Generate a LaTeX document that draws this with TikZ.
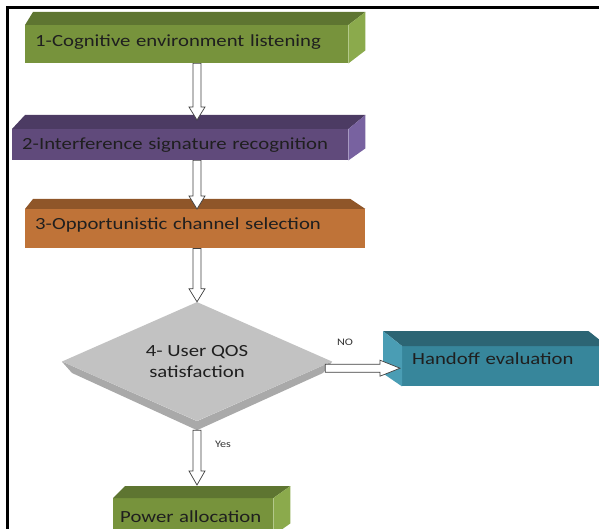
\documentclass[tikz,border=0pt]{standalone}
\usepackage{fontspec}
\setmainfont{Carlito}[FakeStretch=1.22]
\usetikzlibrary{calc,shapes.geometric}

\definecolor{olivefront}{HTML}{77933C}
\definecolor{olivetop}{HTML}{5E7531}
\definecolor{oliveside}{HTML}{8BAA4C}
\definecolor{plumfront}{HTML}{604A7B}
\definecolor{plumtop}{HTML}{4C3B63}
\definecolor{plumside}{HTML}{7862A0}
\definecolor{rustfront}{HTML}{BF7338}
\definecolor{rusttop}{HTML}{8F5629}
\definecolor{tealfront}{HTML}{37869B}
\definecolor{tealtop}{HTML}{2C6574}
\definecolor{tealside}{HTML}{4A9DB4}
\definecolor{qosfront}{HTML}{C2C2C2}
\definecolor{qosside}{HTML}{A9A9A9}

\newcommand{\boxfont}{\fontsize{17}{20.4}\selectfont}
\newcommand{\hollowarrow}[3][13pt]{%
  \path (#2) coordinate (ha-s) (#3) coordinate (ha-e)
    ($(ha-e)!#1!(ha-s)$) coordinate (ha-h);
  \filldraw[blockarrow] ($(ha-s)!4pt!90:(ha-e)$) -- ($(ha-h)!4pt!90:(ha-e)$)
    -- ($(ha-h)!8pt!90:(ha-e)$) -- (ha-e) -- ($(ha-h)!8pt!-90:(ha-e)$)
    -- ($(ha-h)!4pt!-90:(ha-e)$) -- ($(ha-s)!4pt!-90:(ha-e)$) -- cycle;}

\tikzset{
  stepbox/.style={anchor=north west, inner xsep=10pt, inner ysep=0pt, align=left,
    font=\boxfont, text=black!88},
  decision/.style={diamond, aspect=2.27, inner sep=0pt, fill=qosfront, align=center,
    font=\boxfont, text=black!88},
  blockarrow/.style={fill=white, draw=black!75, line width=0.7pt, line join=miter},
  answer/.style={font=\fontsize{10}{12}\selectfont, text=black!80},
}

\begin{document}
\begin{tikzpicture}[x=1pt,y=-1pt]
  \useasboundingbox (0,0) rectangle (599,529);
  \clip (0,0) rectangle (599,529);
  %frame
  \draw[line width=2.2pt] (7.5,540) -- (7.5,7.5) -- (610,7.5);

  %Listening
  \node[stepbox, fill=olivefront, text width=303pt, text depth=7.5pt, minimum height=38pt] (listen) at (25,25)
    {1-Cognitive environment listening};
  \fill[olivetop] (listen.north west) -- ++(8,-13) -- ($(listen.north east)+(17,-13)$) -- (listen.north east) -- cycle;
  \fill[oliveside] (listen.north east) -- ++(17,-13) -- ($(listen.south east)+(17,-13)$) -- (listen.south east) -- cycle;

  %Signature
  \node[stepbox, fill=plumfront, text width=316pt, minimum height=31pt] (sig) at (12,129)
    {2-Interference signature recognition};
  \fill[plumtop] (sig.north west) -- ++(13,-14) -- ($(sig.north east)+(17,-14)$) -- (sig.north east) -- cycle;
  \fill[plumside] (sig.north east) -- ++(17,-14) -- ($(sig.south east)+(17,-12)$) -- (sig.south east) -- cycle;

  %Channel selection
  \node[stepbox, fill=rustfront, text width=320pt, text depth=10.5pt, minimum height=39pt] (sel) at (25,209)
    {3-Opportunistic channel selection};
  \fill[rusttop] (sel.north west) -- ++(8,-10) -- ($(sel.north east)+(-15,-10)$) -- (sel.north east) -- cycle;

  %QOS
  \node[decision, minimum width=270pt, minimum height=119pt] (qos) at (197,361.5)
    {4- User QOS\\satisfaction};
  \fill[qosside] (qos.west) -- (72,373) -- ($(qos.south)+(0,9)$) -- (323,373) -- (qos.east)
    -- (qos.south) -- cycle;

  %Handoff
  \node[stepbox, fill=tealfront, text width=185pt, text depth=15pt, minimum height=40pt] (handoff) at (402,346)
    {Handoff evaluation};
  \fill[tealtop] (handoff.north west) -- ++(-19,-15) -- ($(handoff.north east)+(-19,-15)$) -- (handoff.north east) -- cycle;
  \fill[tealside] (handoff.north west) -- ++(-19,-15) -- ($(handoff.south west)+(-19,-13)$) -- (handoff.south west) -- cycle;

  %Power
  \node[stepbox, fill=olivefront, inner xsep=7pt, text width=146pt, minimum height=37pt] (power) at (113,498)
    {Power allocation};
  \fill[olivetop] (power.north west) -- ++(12,-12) -- ($(power.north east)+(17,-12)$) -- (power.north east) -- cycle;
  \fill[oliveside] (power.north east) -- ++(17,-12) -- ($(power.south east)+(17,-12)$) -- (power.south east) -- cycle;

  %arrows
  \hollowarrow{listen.south -| qos}{$(sig.north -| qos)+(0,-9)$}
  \hollowarrow{sig.south -| qos}{sel.north -| qos}
  \hollowarrow{sel.south -| qos}{qos.north}
  \hollowarrow[20pt]{$(qos.east |- handoff.west)+(-7,2)$}{$(handoff.west)+(-2,2)$}
  \hollowarrow[14pt]{$(qos.south)+(0,9)$}{$(power.north -| qos)+(0,-13)$}
  \node[answer] (no) at (345,342) {NO};
  \node[answer] (yes) at (223,444) {Yes};
\end{tikzpicture}
\end{document}
